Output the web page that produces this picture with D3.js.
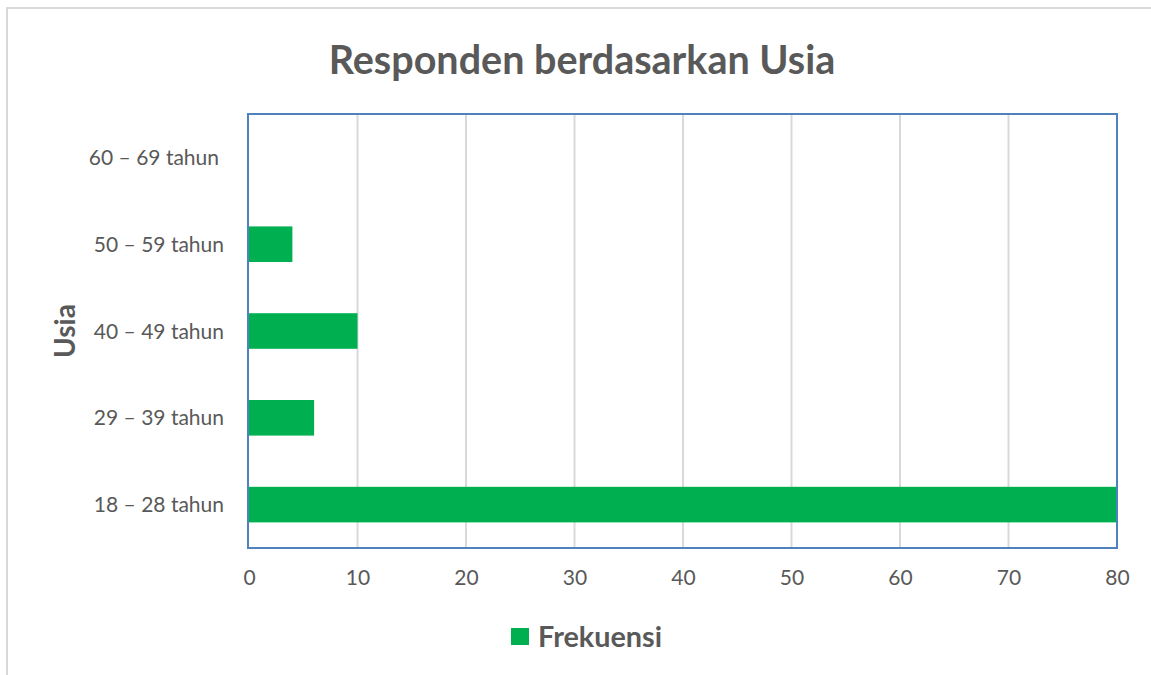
<!DOCTYPE html>
<html><head><meta charset="utf-8">
<script src="https://cdn.jsdelivr.net/npm/d3@7"></script>
<style>body{margin:0;background:#fff}svg text{font-family:Lato,"Open Sans",sans-serif}</style>
</head><body><svg id="c" width="1151" height="675"></svg>
<script>
const categories = ["18 – 28 tahun","29 – 39 tahun","40 – 49 tahun","50 – 59 tahun","60 – 69 tahun"];
const values = [80, 6, 10, 4, 0];
const xTicks = [0,10,20,30,40,50,60,70,80];
const title = "Responden berdasarkan Usia";
const seriesName = "Frekuensi";
const yTitle = "Usia";

const svg = d3.select("#c");
const L = 249, R = 1117, T = 114, B = 548;
svg.append("rect").attr("x",7).attr("y",8).attr("width",1160).attr("height",700)
  .attr("fill","none").attr("stroke","#d9d9d9").attr("stroke-width",2);

const x = d3.scaleLinear().domain([0,80]).range([L,R]);
const y = d3.scaleBand().domain(categories.slice().reverse()).range([T,B]).paddingInner(0.59).paddingOuter(0.295);

svg.append("g").selectAll("line").data(xTicks.slice(1,-1)).join("line")
  .attr("x1",d=>x(d)).attr("x2",d=>x(d)).attr("y1",T).attr("y2",B)
  .attr("stroke","#d9d9d9").attr("stroke-width",2);

svg.append("g").selectAll("rect").data(categories.map((c,i)=>({c,v:values[i]}))).join("rect")
  .attr("x",x(0)).attr("y",d=>y(d.c)).attr("width",d=>x(d.v)-x(0)).attr("height",y.bandwidth())
  .attr("fill","#00b050");

svg.append("rect").attr("x",L-1).attr("y",T).attr("width",R-L+1).attr("height",B-T)
  .attr("fill","none").attr("stroke","#4f81bd").attr("stroke-width",2);

const xa = svg.append("g").attr("transform",`translate(0,${B})`)
  .call(d3.axisBottom(x).tickValues(xTicks).tickSize(0).tickPadding(22));
xa.select(".domain").remove();
xa.selectAll("text").attr("fill","#595959").style("font-size","21px").style("font-family","Lato, 'Open Sans', sans-serif");

const ya = svg.append("g").attr("transform",`translate(${L},0)`)
  .call(d3.axisLeft(y).tickSize(0).tickPadding(25));
ya.select(".domain").remove();
ya.selectAll("text").attr("fill","#595959").style("font-size","21px").style("font-family","Lato, 'Open Sans', sans-serif")
  .attr("dx", d=>d==="60 – 69 tahun" ? -5 : 0).attr("dy","0.36em");

svg.append("text").attr("x",582).attr("y",74).attr("text-anchor","middle")
  .attr("fill","#595959").style("font-size","39.5px").style("font-weight","bold").text(title);

svg.append("text").attr("transform","translate(75,331) rotate(-90)").attr("text-anchor","middle")
  .attr("fill","#595959").style("font-size","28px").style("font-weight","bold").text(yTitle);

svg.append("rect").attr("x",511).attr("y",628).attr("width",18).attr("height",17).attr("fill","#00b050");
svg.append("text").attr("x",538).attr("y",647).attr("fill","#595959")
  .style("font-size","28.8px").style("font-weight","bold").text(seriesName);
</script></body></html>
